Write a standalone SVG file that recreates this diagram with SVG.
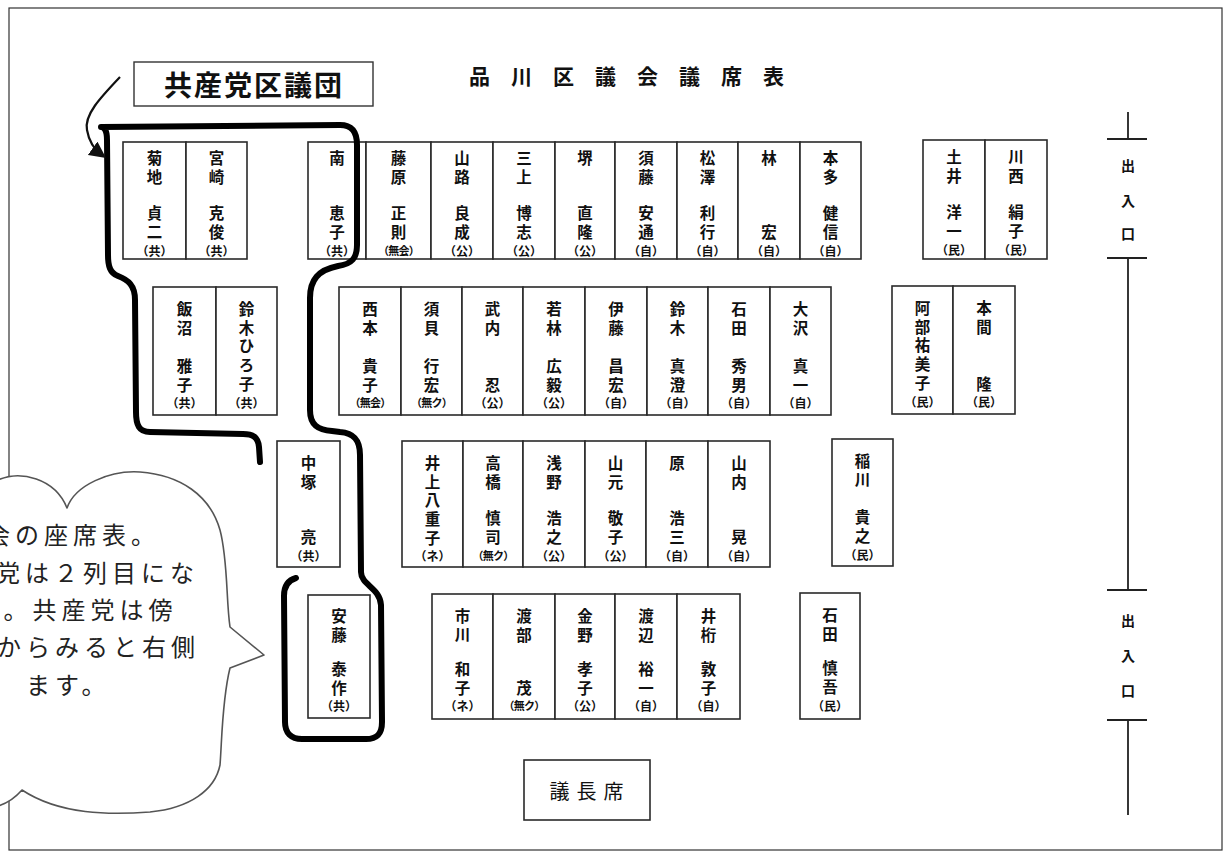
<svg xmlns="http://www.w3.org/2000/svg" width="1231" height="854" viewBox="0 0 1231 854">
<style>
.seat{fill:#fff;stroke:#2a2a2a;stroke-width:1.6}
.v{font-family:"Noto Sans CJK JP","Noto Sans",sans-serif;font-weight:bold;font-size:15.5px;writing-mode:vertical-rl;text-orientation:upright;letter-spacing:3.3px;dominant-baseline:central;fill:#111}
.p{font-family:"Noto Sans CJK JP","Noto Sans",sans-serif;font-weight:bold;font-size:12px;text-anchor:middle;dominant-baseline:central;fill:#111}
.p4{font-size:11px;letter-spacing:-0.8px}
.ex{font-family:"Noto Sans CJK JP",sans-serif;font-weight:bold;font-size:14px;text-anchor:middle;dominant-baseline:central;fill:#111}
.ln{stroke:#222;stroke-width:1.8;fill:none}
.bt{font-family:"Noto Sans CJK JP","Noto Sans",sans-serif;font-size:24px;letter-spacing:5px;dominant-baseline:central;fill:#222}
</style>
<defs>
<marker id="ah" viewBox="0 0 10 10" refX="7" refY="5" markerWidth="7.5" markerHeight="7.5" orient="auto" markerUnits="strokeWidth">
<path d="M0,0 L10,5 L0,10 Z" fill="#111"/>
</marker>
</defs>
<rect width="1231" height="854" fill="#fff"/>
<rect x="9" y="8" width="1213" height="842" fill="none" stroke="#333" stroke-width="1.2"/>

<g id="title"><text x="469" y="75" font-family="Noto Sans CJK JP,sans-serif" font-weight="bold" font-size="21" letter-spacing="21" dominant-baseline="central" fill="#111">品川区議会議席表</text></g>

<g id="label"><rect x="134" y="62" width="239" height="44" fill="#fff" stroke="#333" stroke-width="1.4"/><text x="164" y="84" font-family="Noto Sans CJK JP,sans-serif" font-weight="bold" font-size="28" letter-spacing="2" dominant-baseline="central" fill="#111">共産党区議団</text></g>

<!-- Row 1 -->
<g id="r1-kikuchi"><rect class="seat" x="123" y="142" width="63" height="117"/><text class="v" x="154.5" y="150.25">菊地</text><text class="v" x="154.5" y="205.45">貞二</text><text class="p" x="154.5" y="250">（共）</text></g>
<g id="r1-miyazaki"><rect class="seat" x="186" y="142" width="61" height="117"/><text class="v" x="216.5" y="150.25">宮崎</text><text class="v" x="216.5" y="205.45">克俊</text><text class="p" x="216.5" y="250">（共）</text></g>
<g id="r1-minami"><rect class="seat" x="308" y="142" width="58" height="117"/><text class="v" x="337" y="150.25">南</text><text class="v" x="337" y="205.45">恵子</text><text class="p" x="337" y="250">（共）</text></g>
<g id="r1-fujiwara"><rect class="seat" x="366" y="142" width="65" height="117"/><text class="v" x="398.5" y="150.25">藤原</text><text class="v" x="398.5" y="205.45">正則</text><text class="p p4" x="398.5" y="250">（無会）</text></g>
<g id="r1-yamaji"><rect class="seat" x="431" y="142" width="62" height="117"/><text class="v" x="462" y="150.25">山路</text><text class="v" x="462" y="205.45">良成</text><text class="p" x="462" y="250">（公）</text></g>
<g id="r1-mikami"><rect class="seat" x="493" y="142" width="62" height="117"/><text class="v" x="524" y="150.25">三上</text><text class="v" x="524" y="205.45">博志</text><text class="p" x="524" y="250">（公）</text></g>
<g id="r1-sakai"><rect class="seat" x="555" y="142" width="60" height="117"/><text class="v" x="585" y="150.25">堺</text><text class="v" x="585" y="205.45">直隆</text><text class="p" x="585" y="250">（公）</text></g>
<g id="r1-sudo"><rect class="seat" x="615" y="142" width="62" height="117"/><text class="v" x="646" y="150.25">須藤</text><text class="v" x="646" y="205.45">安通</text><text class="p" x="646" y="250">（自）</text></g>
<g id="r1-matsuzawa"><rect class="seat" x="677" y="142" width="61" height="117"/><text class="v" x="707.5" y="150.25">松澤</text><text class="v" x="707.5" y="205.45">利行</text><text class="p" x="707.5" y="250">（自）</text></g>
<g id="r1-hayashi"><rect class="seat" x="738" y="142" width="62" height="117"/><text class="v" x="769" y="150.25">林</text><text class="v" x="769" y="224.25">宏</text><text class="p" x="769" y="250">（自）</text></g>
<g id="r1-honda"><rect class="seat" x="800" y="142" width="61" height="117"/><text class="v" x="830.5" y="150.25">本多</text><text class="v" x="830.5" y="205.45">健信</text><text class="p" x="830.5" y="250">（自）</text></g>
<g id="r1-doi"><rect class="seat" x="923" y="140" width="62" height="119"/><text class="v" x="954" y="149.25">土井</text><text class="v" x="954" y="204.45">洋一</text><text class="p" x="954" y="249">（民）</text></g>
<g id="r1-kawanishi"><rect class="seat" x="985" y="140" width="62" height="119"/><text class="v" x="1016" y="149.25">川西</text><text class="v" x="1016" y="204.45">絹子</text><text class="p" x="1016" y="249">（民）</text></g>

<!-- Row 2 -->
<g id="r2-iinuma"><rect class="seat" x="153" y="287" width="63" height="128"/><text class="v" x="184.5" y="301.25">飯沼</text><text class="v" x="184.5" y="358.45">雅子</text><text class="p" x="184.5" y="402">（共）</text></g>
<g id="r2-suzuki-h"><rect class="seat" x="216" y="287" width="61" height="128"/><text class="v" x="246.5" y="301.25">鈴木ひろ子</text><text class="p" x="246.5" y="402">（共）</text></g>
<g id="r2-nishimoto"><rect class="seat" x="339" y="287" width="62" height="128"/><text class="v" x="370" y="301.25">西本</text><text class="v" x="370" y="358.45">貴子</text><text class="p p4" x="370" y="402">（無会）</text></g>
<g id="r2-sugai"><rect class="seat" x="401" y="287" width="61" height="128"/><text class="v" x="431.5" y="301.25">須貝</text><text class="v" x="431.5" y="358.45">行宏</text><text class="p p4" x="431.5" y="402">（無ク）</text></g>
<g id="r2-takeuchi"><rect class="seat" x="462" y="287" width="61" height="128"/><text class="v" x="492.5" y="301.25">武内</text><text class="v" x="492.5" y="377.25">忍</text><text class="p" x="492.5" y="402">（公）</text></g>
<g id="r2-wakabayashi"><rect class="seat" x="523" y="287" width="62" height="128"/><text class="v" x="554" y="301.25">若林</text><text class="v" x="554" y="358.45">広毅</text><text class="p" x="554" y="402">（公）</text></g>
<g id="r2-ito"><rect class="seat" x="585" y="287" width="62" height="128"/><text class="v" x="616" y="301.25">伊藤</text><text class="v" x="616" y="358.45">昌宏</text><text class="p" x="616" y="402">（自）</text></g>
<g id="r2-suzuki-m"><rect class="seat" x="647" y="287" width="61" height="128"/><text class="v" x="677.5" y="301.25">鈴木</text><text class="v" x="677.5" y="358.45">真澄</text><text class="p" x="677.5" y="402">（自）</text></g>
<g id="r2-ishida-h"><rect class="seat" x="708" y="287" width="62" height="128"/><text class="v" x="739" y="301.25">石田</text><text class="v" x="739" y="358.45">秀男</text><text class="p" x="739" y="402">（自）</text></g>
<g id="r2-osawa"><rect class="seat" x="770" y="287" width="61" height="128"/><text class="v" x="800.5" y="301.25">大沢</text><text class="v" x="800.5" y="358.45">真一</text><text class="p" x="800.5" y="402">（自）</text></g>
<g id="r2-abe"><rect class="seat" x="892" y="286" width="61" height="128"/><text class="v" x="922.5" y="300.25">阿部祐美子</text><text class="p" x="922.5" y="401">（民）</text></g>
<g id="r2-honma"><rect class="seat" x="953" y="286" width="62" height="128"/><text class="v" x="984" y="300.25">本間</text><text class="v" x="984" y="376.25">隆</text><text class="p" x="984" y="401">（民）</text></g>

<!-- Row 3 -->
<g id="r3-nakatsuka"><rect class="seat" x="277" y="441" width="63" height="126"/><text class="v" x="308.5" y="455.25">中塚</text><text class="v" x="308.5" y="529.25">亮</text><text class="p" x="308.5" y="555">（共）</text></g>
<g id="r3-inoue"><rect class="seat" x="402" y="441" width="61" height="126"/><text class="v" x="432.5" y="455.25">井上八重子</text><text class="p" x="432.5" y="555">（ネ）</text></g>
<g id="r3-takahashi"><rect class="seat" x="463" y="441" width="60" height="126"/><text class="v" x="493" y="455.25">高橋</text><text class="v" x="493" y="510.45">慎司</text><text class="p p4" x="493" y="555">（無ク）</text></g>
<g id="r3-asano"><rect class="seat" x="523" y="441" width="62" height="126"/><text class="v" x="554" y="455.25">浅野</text><text class="v" x="554" y="510.45">浩之</text><text class="p" x="554" y="555">（公）</text></g>
<g id="r3-yamamoto"><rect class="seat" x="585" y="441" width="61" height="126"/><text class="v" x="615.5" y="455.25">山元</text><text class="v" x="615.5" y="510.45">敬子</text><text class="p" x="615.5" y="555">（公）</text></g>
<g id="r3-hara"><rect class="seat" x="646" y="441" width="62" height="126"/><text class="v" x="677" y="455.25">原</text><text class="v" x="677" y="510.45">浩三</text><text class="p" x="677" y="555">（自）</text></g>
<g id="r3-yamauchi"><rect class="seat" x="708" y="441" width="62" height="126"/><text class="v" x="739" y="455.25">山内</text><text class="v" x="739" y="529.25">晃</text><text class="p" x="739" y="555">（自）</text></g>
<g id="r3-inagawa"><rect class="seat" x="832" y="439" width="61" height="127"/><text class="v" x="862.5" y="453.25">稲川</text><text class="v" x="862.5" y="509.45">貴之</text><text class="p" x="862.5" y="554">（民）</text></g>

<!-- Row 4 -->
<g id="r4-ando"><rect class="seat" x="308" y="595" width="62" height="123"/><text class="v" x="339" y="608.25">安藤</text><text class="v" x="339" y="661.45">泰作</text><text class="p" x="339" y="705">（共）</text></g>
<g id="r4-ichikawa"><rect class="seat" x="432" y="594" width="61" height="125"/><text class="v" x="462.5" y="608.25">市川</text><text class="v" x="462.5" y="661.45">和子</text><text class="p" x="462.5" y="705">（ネ）</text></g>
<g id="r4-watanabe-s"><rect class="seat" x="493" y="594" width="62" height="125"/><text class="v" x="524" y="608.25">渡部</text><text class="v" x="524" y="680.25">茂</text><text class="p p4" x="524" y="705">（無ク）</text></g>
<g id="r4-kaneno"><rect class="seat" x="555" y="594" width="60" height="125"/><text class="v" x="585" y="608.25">金野</text><text class="v" x="585" y="661.45">孝子</text><text class="p" x="585" y="705">（公）</text></g>
<g id="r4-watanabe-y"><rect class="seat" x="615" y="594" width="62" height="125"/><text class="v" x="646" y="608.25">渡辺</text><text class="v" x="646" y="661.45">裕一</text><text class="p" x="646" y="705">（自）</text></g>
<g id="r4-igeta"><rect class="seat" x="677" y="594" width="63" height="125"/><text class="v" x="708.5" y="608.25">井桁</text><text class="v" x="708.5" y="661.45">敦子</text><text class="p" x="708.5" y="705">（自）</text></g>
<g id="r4-ishida-s"><rect class="seat" x="800" y="593" width="60" height="126"/><text class="v" x="830" y="607.25">石田</text><text class="v" x="830" y="660.45">慎吾</text><text class="p" x="830" y="705">（民）</text></g>

<g id="chair"><rect x="524" y="760" width="126" height="60" fill="#fff" stroke="#2a2a2a" stroke-width="1.6"/><text x="590" y="790" font-family="Noto Sans CJK JP,sans-serif" font-size="20" letter-spacing="7" text-anchor="middle" dominant-baseline="central" fill="#111">議長席</text></g>

<g id="exits">
<path class="ln" d="M1128,112 V139 M1107,139 H1147 M1107,258 H1147 M1128,258 V590 M1107,590 H1147 M1107,720 H1147 M1128,720 V815"/>
<text class="ex" x="1128" y="165">出</text><text class="ex" x="1128" y="200">入</text><text class="ex" x="1128" y="233">口</text>
<text class="ex" x="1128" y="620">出</text><text class="ex" x="1128" y="655">入</text><text class="ex" x="1128" y="690">口</text>
</g>

<g id="jcp-outline">
<path d="M260,462 L259,447 C258,437 253,434 243,434 L150,432 C139,432 136,425 136,412 L135,300 C135,285 128,280 118,276 C110,273 108,266 108,255 L107,140 C107,130 104,127 101,127 L340,125 C352,125 357,132 357,145 L357,245 C357,258 352,264 338,266 C318,270 310,280 310,298 L310,410 C310,425 318,430 332,431 L340,432 C354,433 360,440 360,455 L361,572 C361,585 380,588 381,605 L382,722 C382,734 377,739 366,739 L302,739 C291,739 285,733 285,722 L284,596 C284,585 289,580 296,578" fill="none" stroke="#000" stroke-width="6" stroke-linecap="round" stroke-linejoin="round"/>
</g>

<g id="connectors">
<path d="M120,77 C100,98 84,115 87,130 C89,142 95,150 102,155" fill="none" stroke="#111" stroke-width="2.2" marker-end="url(#ah)"/>
</g>

<g id="bubble">
<path d="M-2,480 C20,470 55,478 67,508 C75,485 110,470 140,472 C180,475 210,495 220,530 C228,560 226,600 230,627 L264,655 L230,668 C222,700 222,740 220,765 C215,790 190,808 150,812 C110,815 60,815 22,790 C15,798 8,803 -2,806 Z" fill="#fff" stroke="#555" stroke-width="1.6" stroke-linejoin="round"/>
<text class="bt" x="-14" y="533">会の座席表。</text>
<text class="bt" x="-4" y="571">党は２列目にな</text>
<text class="bt" x="-23" y="608">す。共産党は傍</text>
<text class="bt" x="-3" y="645">からみると右側</text>
<text class="bt" x="26" y="683">ます。</text>
</g>
</svg>
